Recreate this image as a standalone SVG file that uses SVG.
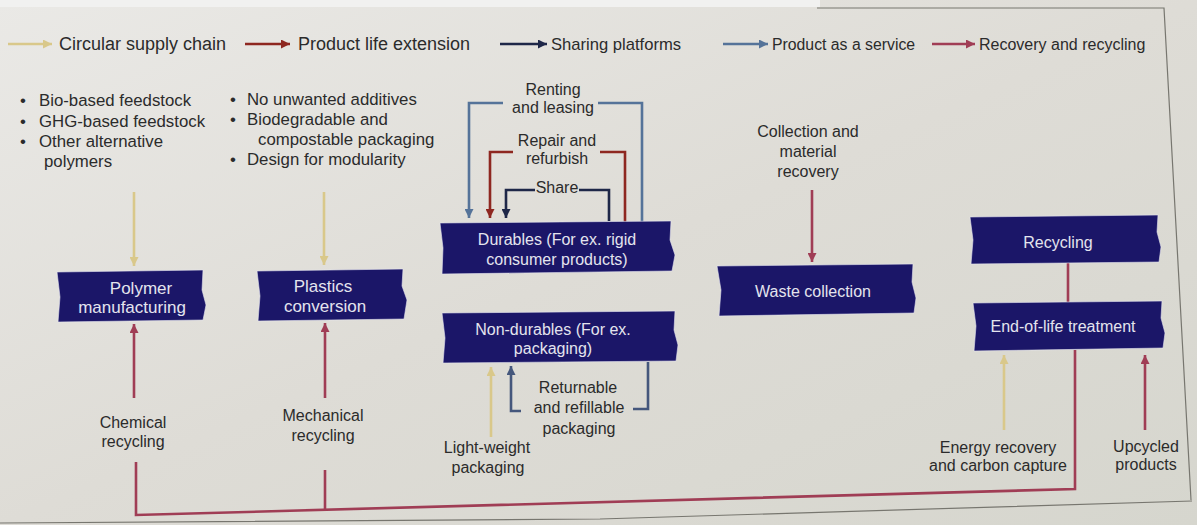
<svg xmlns="http://www.w3.org/2000/svg" width="1197" height="525" viewBox="0 0 1197 525">
<defs>
<linearGradient id="bg" x1="0" y1="0" x2="1" y2="1">
<stop offset="0" stop-color="#eae9e6"/>
<stop offset="0.5" stop-color="#dedcd6"/>
<stop offset="1" stop-color="#d6d6ce"/>
</linearGradient>
<marker id="aY" viewBox="0 0 10 10" refX="10" refY="5" markerWidth="9" markerHeight="9" markerUnits="userSpaceOnUse" orient="auto"><path d="M0,0 L10,5 L0,10 z" fill="#d9c88a"/></marker>
<marker id="aR" viewBox="0 0 10 10" refX="10" refY="5" markerWidth="9" markerHeight="9" markerUnits="userSpaceOnUse" orient="auto"><path d="M0,0 L10,5 L0,10 z" fill="#8e2720"/></marker>
<marker id="aN" viewBox="0 0 10 10" refX="10" refY="5" markerWidth="9" markerHeight="9" markerUnits="userSpaceOnUse" orient="auto"><path d="M0,0 L10,5 L0,10 z" fill="#1e2748"/></marker>
<marker id="aB" viewBox="0 0 10 10" refX="10" refY="5" markerWidth="9" markerHeight="9" markerUnits="userSpaceOnUse" orient="auto"><path d="M0,0 L10,5 L0,10 z" fill="#557399"/></marker>
<marker id="aS" viewBox="0 0 10 10" refX="10" refY="5" markerWidth="9" markerHeight="9" markerUnits="userSpaceOnUse" orient="auto"><path d="M0,0 L10,5 L0,10 z" fill="#45577c"/></marker>
<marker id="aP" viewBox="0 0 10 10" refX="10" refY="5" markerWidth="9" markerHeight="9" markerUnits="userSpaceOnUse" orient="auto"><path d="M0,0 L10,5 L0,10 z" fill="#a03d55"/></marker>
</defs>
<style>
text{font-family:"Liberation Sans",Arial,sans-serif;fill:#2b2b2b;}
.lg{font-size:18px;}
.lg2{font-size:16.6px;}
.lg3{font-size:15.8px;}
.lg4{font-size:16px;}
.t{font-size:16px;text-anchor:middle;}
.b{font-size:16.8px;}
.n{fill:#1b1668;stroke:#e6e6f0;stroke-width:0.6;}
.nt{font-size:16px;fill:#e4e4ee;text-anchor:middle;}
.nt17{font-size:17px;fill:#e4e4ee;text-anchor:middle;}
.c{fill:none;stroke-width:2.6;}
.y{stroke:#d9c88a;}
.r{stroke:#8e2720;}
.nv{stroke:#1e2748;}
.bl{stroke:#557399;}
.sl{stroke:#45577c;}
.p{stroke:#a03d55;}
.fr{fill:none;stroke:#77766f;stroke-width:1.2;}
</style>
<rect x="0" y="0" width="1197" height="525" fill="url(#bg)"/>
<rect x="0" y="0" width="820" height="7" fill="#f1f1f0"/>
<path class="fr" d="M817,8 L1164,8 L1191,500"/>
<path class="fr" d="M0,523 L600,519 L1192,501"/>

<g id="legend">
<line class="c y" x1="8" y1="44" x2="52" y2="44" stroke-width="3" marker-end="url(#aY)"/>
<text class="lg" x="59" y="50">Circular supply chain</text>
<line class="c r" x1="245" y1="44" x2="290" y2="44" stroke-width="3" marker-end="url(#aR)"/>
<text class="lg" x="298" y="50">Product life extension</text>
<line class="c nv" x1="500" y1="44" x2="547" y2="44" stroke-width="3" marker-end="url(#aN)"/>
<text class="lg2" x="551" y="50">Sharing platforms</text>
<line class="c bl" x1="723" y1="44" x2="768" y2="44" stroke-width="3" marker-end="url(#aB)"/>
<text class="lg3" x="772" y="50">Product as a service</text>
<line class="c p" x1="932" y1="44" x2="975" y2="44" stroke-width="3" marker-end="url(#aP)"/>
<text class="lg4" x="979" y="50">Recovery and recycling</text>
</g>

<g id="labels">
<text class="b" x="20" y="106">•</text><text class="b" x="39" y="106">Bio-based feedstock</text>
<text class="b" x="20" y="127">•</text><text class="b" x="39" y="127">GHG-based feedstock</text>
<text class="b" x="20" y="147">•</text><text class="b" x="39" y="147">Other alternative</text>
<text class="b" x="44" y="167">polymers</text>
<text class="b" x="230" y="105">•</text><text class="b" x="247" y="105">No unwanted additives</text>
<text class="b" x="230" y="125">•</text><text class="b" x="247" y="125">Biodegradable and</text>
<text class="b" x="258" y="145">compostable packaging</text>
<text class="b" x="230" y="165">•</text><text class="b" x="247" y="165">Design for modularity</text>
<text class="t" x="553" y="95">Renting</text>
<text class="t" x="553" y="113">and leasing</text>
<text class="t" x="557" y="146">Repair and</text>
<text class="t" x="557" y="164">refurbish</text>
<text class="t" x="557" y="193">Share</text>
<text class="t" x="808" y="137">Collection and</text>
<text class="t" x="808" y="157">material</text>
<text class="t" x="808" y="177">recovery</text>
<text class="t" x="578" y="393">Returnable</text>
<text class="t" x="579" y="413">and refillable</text>
<text class="t" x="579" y="434">packaging</text>
<text class="t" x="487" y="453">Light-weight</text>
<text class="t" x="488" y="473">packaging</text>
<text class="t" x="133" y="428">Chemical</text>
<text class="t" x="133" y="447">recycling</text>
<text class="t" x="323" y="421">Mechanical</text>
<text class="t" x="323" y="441">recycling</text>
<text class="t" x="998" y="453">Energy recovery</text>
<text class="t" x="998" y="471">and carbon capture</text>
<text class="t" x="1146" y="452">Upcycled</text>
<text class="t" x="1146" y="470">products</text>
</g>

<g id="connectors">
<line class="c y" x1="134" y1="192" x2="134" y2="266" marker-end="url(#aY)"/>
<line class="c y" x1="324" y1="192" x2="324" y2="265" marker-end="url(#aY)"/>
<line class="c p" x1="134" y1="398" x2="134" y2="324" marker-end="url(#aP)"/>
<line class="c p" x1="325" y1="398" x2="325" y2="323" marker-end="url(#aP)"/>
<path class="c p" d="M136,462 V515 L1075,489 V350"/>
<path class="c p" d="M325,470 V511"/>
<path class="c p" d="M1068,263 V302"/>
<path class="c bl" d="M642,222 V103 H598"/>
<path class="c bl" d="M503,103 H469 V218" marker-end="url(#aB)"/>
<path class="c r" d="M625,222 V152 H600"/>
<path class="c r" d="M513,152 H490 V218" marker-end="url(#aR)"/>
<path class="c nv" d="M609,221 V190 H579"/>
<path class="c nv" d="M535,190 H506 V218" marker-end="url(#aN)"/>
<line class="c y" x1="491" y1="437" x2="491" y2="367" marker-end="url(#aY)"/>
<path class="c sl" d="M648,362 V409 H633"/>
<path class="c sl" d="M521,411 H511 V366" marker-end="url(#aS)"/>
<line class="c p" x1="812" y1="190" x2="812" y2="262" marker-end="url(#aP)"/>
<line class="c y" x1="1004" y1="430" x2="1004" y2="355" marker-end="url(#aY)"/>
<line class="c p" x1="1145" y1="430" x2="1145" y2="355" marker-end="url(#aP)"/>
</g>

<g id="polymer">
<path class="n" d="M57,272 L203,270 L202,290 L206,305 L203,320 L58,322 L60,297 z"/>
<text class="nt17" x="141" y="294">Polymer</text>
<text class="nt17" x="132" y="313">manufacturing</text>
</g>
<g id="plastics">
<path class="n" d="M257,271 L403,269 L402,286 L407,300 L404,319 L258,321 L260,296 z"/>
<text class="nt17" x="323" y="292">Plastics</text>
<text class="nt17" x="325" y="312">conversion</text>
</g>
<g id="durables">
<path class="n" d="M440,223 L671,221 L670,240 L675,255 L672,271 L442,274 L443,248 z"/>
<text class="nt" x="557" y="245">Durables (For ex. rigid</text>
<text class="nt" x="557" y="265">consumer products)</text>
</g>
<g id="nondurables">
<path class="n" d="M442,313 L675,311 L674,330 L678,345 L676,361 L443,363 L445,338 z"/>
<text class="nt" x="553" y="335">Non-durables (For ex.</text>
<text class="nt" x="553" y="354">packaging)</text>
</g>
<g id="waste">
<path class="n" d="M717,266 L913,264 L912,282 L916,298 L914,313 L719,316 L721,290 z"/>
<text class="nt" x="813" y="297">Waste collection</text>
</g>
<g id="recycling">
<path class="n" d="M970,217 L1158,215 L1157,232 L1161,247 L1159,262 L971,264 L973,240 z"/>
<text class="nt" x="1058" y="248">Recycling</text>
</g>
<g id="eol">
<path class="n" d="M973,303 L1162,301 L1161,318 L1165,333 L1163,348 L974,351 L976,326 z"/>
<text class="nt" x="1063" y="332">End-of-life treatment</text>
</g>
</svg>
